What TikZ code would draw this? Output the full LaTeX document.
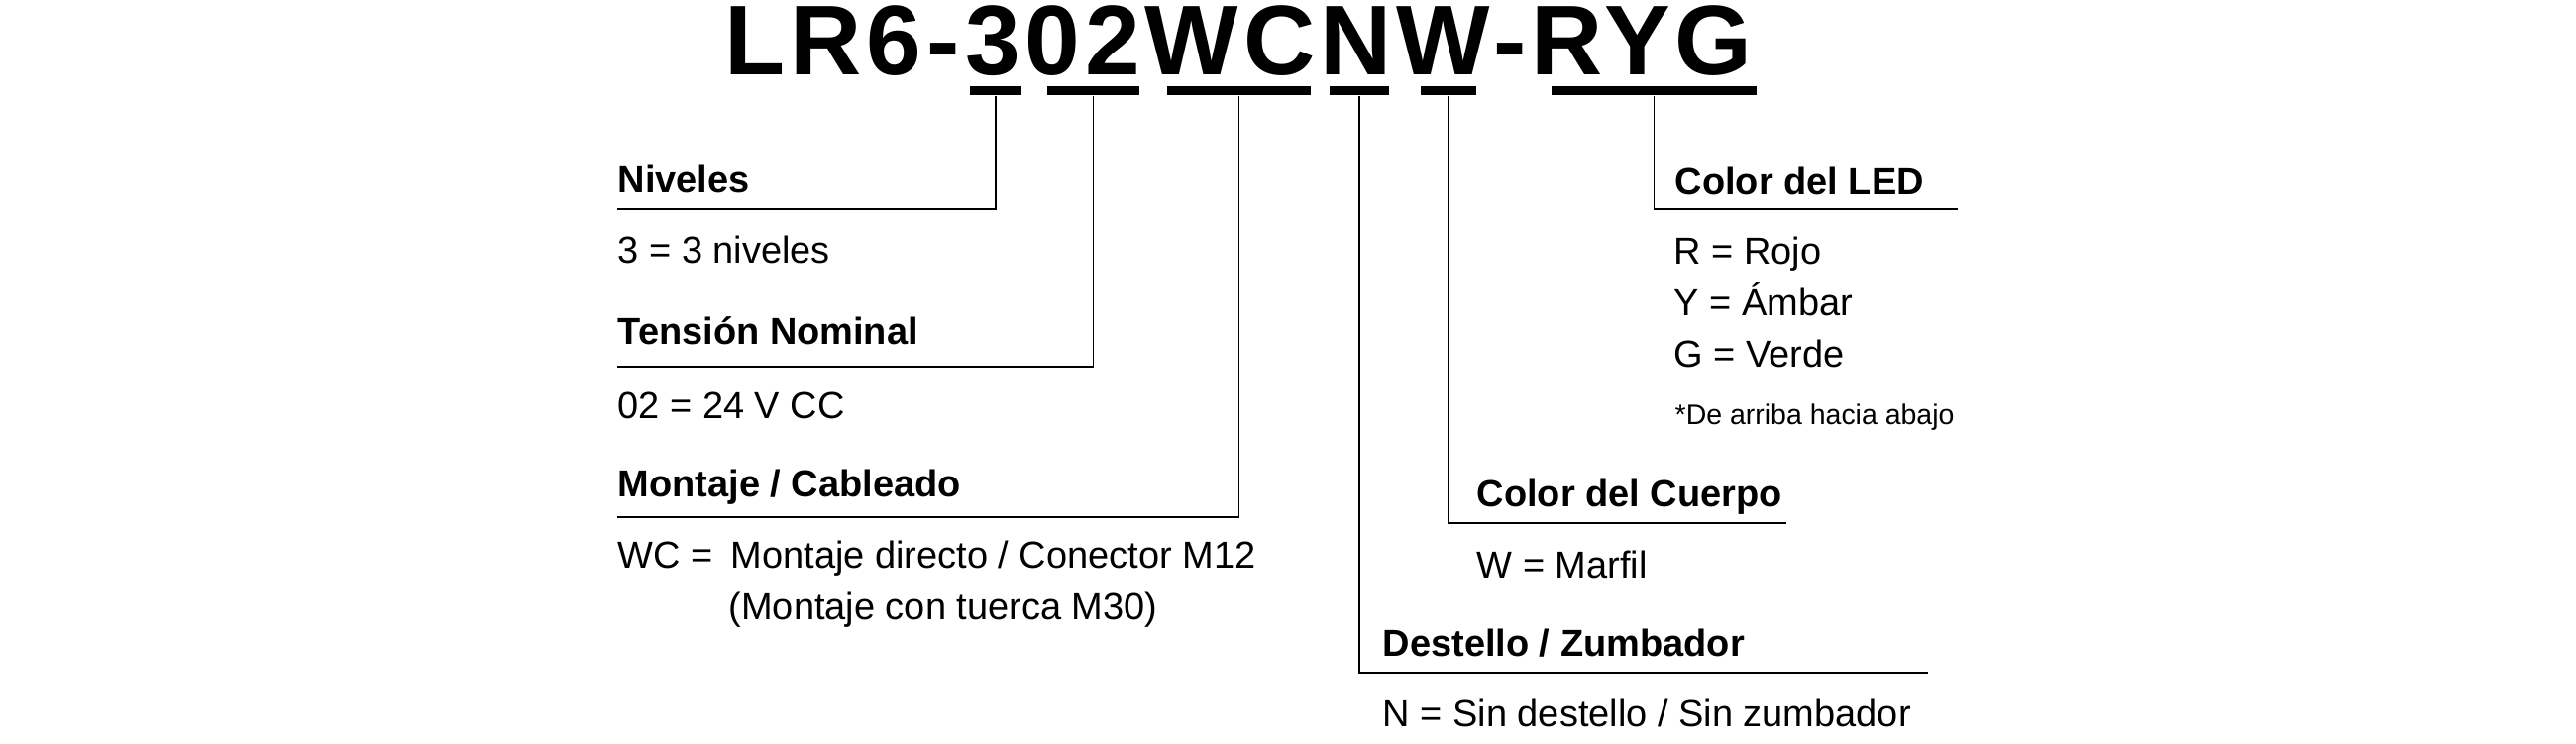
\documentclass[tikz,border=0pt]{standalone}
\usepackage{fontspec}
\setmainfont{Liberation Sans}
\newfontfamily\codefont[LetterSpace=5]{Liberation Sans}
\usetikzlibrary{calc}
\tikzstyle{codebar} = [fill=black, draw=none, inner sep=0pt, minimum height=0.9mm]
\tikzstyle{leader}  = [line width=0.55pt]
\tikzstyle{head}    = [anchor=base west, inner sep=0pt, font=\fontsize{10.8}{13}\selectfont\bfseries]
\tikzstyle{choice}  = [anchor=base west, inner sep=0pt, font=\fontsize{10.8}{13}\selectfont]
\tikzstyle{remark}  = [anchor=base west, inner sep=0pt, font=\fontsize{8.1}{10}\selectfont]
\begin{document}
\begin{tikzpicture}[x=0.01cm, y=-0.01cm]
		\useasboundingbox (0,0) rectangle (2600,750);
		\node[anchor=base west, inner sep=0pt, font=\codefont\bfseries\fontsize{28.45}{30}\selectfont] (code) at (731,75) {LR6-302WCNW-RYG};
		\foreach \n/\x/\w in {b3/1005/5.2mm, b02/1103.5/9.3mm, bWC/1250.5/14.5mm, bN/1372/6mm, bW/1462/5.6mm, bRYG/1669.5/20.7mm}
			\node[codebar, minimum width=\w] (\n) at (\x,91.5) {};
		\node[head] (niv) at (623,194) {Niveles};
		\node[choice] (niv3) at (623,265) {3 = 3 niveles};
		\node[head] (ten) at (623,347) {Tensión Nominal};
		\node[choice] (ten02) at (623,422) {02 = 24 V CC};
		\node[head] (mon) at (623,501) {Montaje / Cableado};
		\node[choice] (monWC) at (623,573) {WC =};
		\node[choice] (monA) at (737,573) {Montaje directo / Conector M12};
		\node[choice] (monB) at (735,625) {(Montaje con tuerca M30)};
		\node[head] (led) at (1690,196) {Color del LED};
		\foreach \t [count=\i] in {R = Rojo, Y = Ámbar, G = Verde}
			\node[choice] (led\i) at (1689,214+52*\i) {\t};
		\node[remark] (ledNote) at (1690,428) {*De arriba hacia abajo};
		\node[head] (cue) at (1490,511) {Color del Cuerpo};
		\node[choice] (cueW) at (1490,583) {W = Marfil};
		\node[head] (des) at (1395,662) {Destello / Zumbador};
		\node[choice] (desN) at (1395,733) {N = Sin destello / Sin zumbador};
		\coordinate (nivEnd) at (623,211);
		\coordinate (tenEnd) at (623,370);
		\coordinate (monEnd) at (623,522);
		\coordinate (ledEnd) at (1976,211);
		\coordinate (cueEnd) at (1803,528);
		\coordinate (desEnd) at (1946,679);
		\draw[leader] (b3.south) |- (nivEnd);
		\draw[leader] (b02.south) |- (tenEnd);
		\draw[leader] (bWC.south) |- (monEnd);
		\draw[leader] (bN.south) |- (desEnd);
		\draw[leader] (bW.south) |- (cueEnd);
		\draw[leader] (bRYG.south) |- (ledEnd);
	\end{tikzpicture}
\end{document}
